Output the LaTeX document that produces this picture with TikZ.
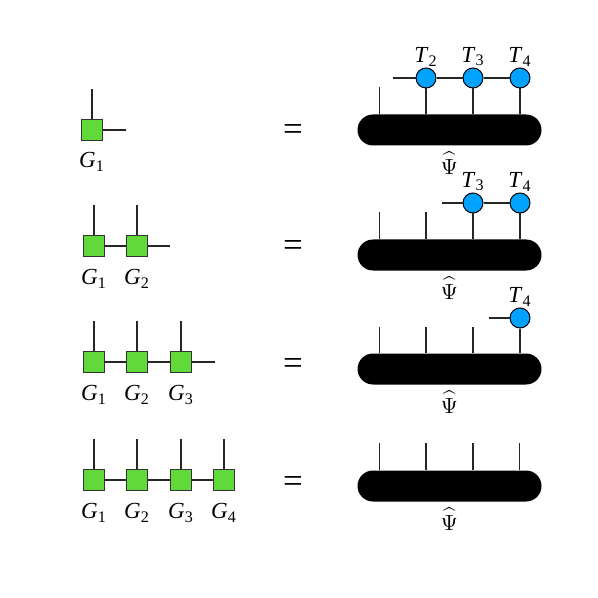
\documentclass[tikz,border=0pt]{standalone}
\usepackage{amsmath}
\usepackage{fontspec}
\setmainfont{Liberation Serif}
\usetikzlibrary{positioning,calc,shapes.misc}
\definecolor{VerdeCuadro}{RGB}{98,217,59}
\definecolor{AzulCirculo}{RGB}{0,162,255}
\newcommand{\idx}[2]{\textit{#1}\textsubscript{#2}}
\newcommand{\psihat}{$\widehat{\Psi\rule{0pt}{8.6pt}}$}

\begin{document}
\begin{tikzpicture}[x=0.5pt, y=-0.5pt,
    sq/.style={draw=black!80, fill=VerdeCuadro, minimum size=10.5pt, inner sep=0pt, line width=0.6pt},
    tc/.style={circle, draw=black, fill=AzulCirculo, minimum size=10pt, inner sep=0pt, line width=0.5pt},
    psi/.style={rounded rectangle, fill=black, minimum width=92pt, minimum height=15.5pt, inner sep=0pt},
    eq/.style={font=\fontsize{17.5}{20}\selectfont, yshift=-2pt},
    lbl/.style={inner sep=0.5pt, font=\fontsize{11.5}{13}\selectfont},
    hat/.style={inner sep=0.5pt, font=\fontsize{11}{13}\selectfont},
    leg/.style={line width=0.55pt, black!85}
  ]
    \useasboundingbox (0,0) rectangle (598,598);

    % fila 1
    \node[sq] (g11) at (92,130) {};
    \draw[leg] (g11.north) -- ++(0,-30);
    \draw[leg] (g11.east) -- ++(23,0);
    \node[lbl, below=5pt of g11] (n11) {\idx{G}{1}};
    \node[eq] (e1) at (293,129) {=};
    \node[psi] (p1) at (449.5,130) {};
    \node[hat, below=2pt of p1] (s1) {\psihat};
    \draw[leg] ([xshift=-35pt]p1.north) -- ++(0,-27);
    \node[tc] (t12) at (426,78) {};
    \node[tc] (t13) at (473,78) {};
    \node[tc] (t14) at (520,78) {};
    \coordinate (h1) at (393,78);
    \draw[leg] (h1) -- (t12.west) (t12.east) -- (t13.west) (t13.east) -- (t14.west);
    \foreach \t in {t12,t13,t14} \draw[leg] (\t.south) -- (\t |- p1.north);
    \node[lbl, above=0pt of t12] (l12) {\idx{T}{2}};
    \node[lbl, above=0pt of t13] (l13) {\idx{T}{3}};
    \node[lbl, above=0pt of t14] (l14) {\idx{T}{4}};

    % fila 2
    \node[sq] (g21) at (94,246) {};
    \node[sq] (g22) at (137,246) {};
    \draw[leg] (g21.east) -- (g22.west);
    \draw[leg] (g22.east) -- ++(22,0);
    \foreach \g in {g21,g22} \draw[leg] (\g.north) -- ++(0,-30);
    \node[lbl, below=5.5pt of g21] (n21) {\idx{G}{1}};
    \node[lbl, below=5.5pt of g22] (n22) {\idx{G}{2}};
    \node[eq] (e2) at (293,245) {=};
    \node[psi] (p2) at (449.5,255) {};
    \node[hat, below=2pt of p2] (s2) {\psihat};
    \draw[leg] ([xshift=-35pt]p2.north) -- ++(0,-27);
    \draw[leg] ([xshift=-11.75pt]p2.north) -- ++(0,-27);
    \node[tc] (t23) at (473,203) {};
    \node[tc] (t24) at (520,203) {};
    \coordinate (h2) at (442,203);
    \draw[leg] (h2) -- (t23.west) (t23.east) -- (t24.west);
    \foreach \t in {t23,t24} \draw[leg] (\t.south) -- (\t |- p2.north);
    \node[lbl, above=0pt of t23] (l23) {\idx{T}{3}};
    \node[lbl, above=0pt of t24] (l24) {\idx{T}{4}};

    % fila 3
    \node[sq] (g31) at (94,362) {};
    \node[sq] (g32) at (137,362) {};
    \node[sq] (g33) at (181,362) {};
    \draw[leg] (g31.east) -- (g32.west) (g32.east) -- (g33.west);
    \draw[leg] (g33.east) -- ++(23,0);
    \foreach \g in {g31,g32,g33} \draw[leg] (\g.north) -- ++(0,-30);
    \node[lbl, below=5.5pt of g31] (n31) {\idx{G}{1}};
    \node[lbl, below=5.5pt of g32] (n32) {\idx{G}{2}};
    \node[lbl, below=5.5pt of g33] (n33) {\idx{G}{3}};
    \node[eq] (e3) at (293,362) {=};
    \node[psi] (p3) at (449.5,369) {};
    \node[hat, below=2pt of p3] (s3) {\psihat};
    \foreach \dx in {-35pt,-11.75pt,11.75pt}
      \draw[leg] ([xshift=\dx]p3.north) -- ++(0,-26);
    \node[tc] (t34) at (520,318) {};
    \coordinate (h3) at (489,318);
    \draw[leg] (h3) -- (t34.west);
    \draw[leg] (t34.south) -- (t34 |- p3.north);
    \node[lbl, above=0pt of t34] (l34) {\idx{T}{4}};

    % fila 4
    \node[sq] (g41) at (94,480) {};
    \node[sq] (g42) at (137,480) {};
    \node[sq] (g43) at (181,480) {};
    \node[sq] (g44) at (224,480) {};
    \draw[leg] (g41.east) -- (g42.west) (g42.east) -- (g43.west) (g43.east) -- (g44.west);
    \foreach \g in {g41,g42,g43,g44} \draw[leg] (\g.north) -- ++(0,-30);
    \node[lbl, below=5.5pt of g41] (n41) {\idx{G}{1}};
    \node[lbl, below=5.5pt of g42] (n42) {\idx{G}{2}};
    \node[lbl, below=5.5pt of g43] (n43) {\idx{G}{3}};
    \node[lbl, below=5.5pt of g44] (n44) {\idx{G}{4}};
    \node[eq] (e4) at (293,480) {=};
    \node[psi] (p4) at (449.5,486) {};
    \node[hat, below=2pt of p4] (s4) {\psihat};
    \foreach \dx in {-35pt,-11.75pt,11.75pt,35pt}
      \draw[leg] ([xshift=\dx]p4.north) -- ++(0,-27);
  \end{tikzpicture}
\end{document}
